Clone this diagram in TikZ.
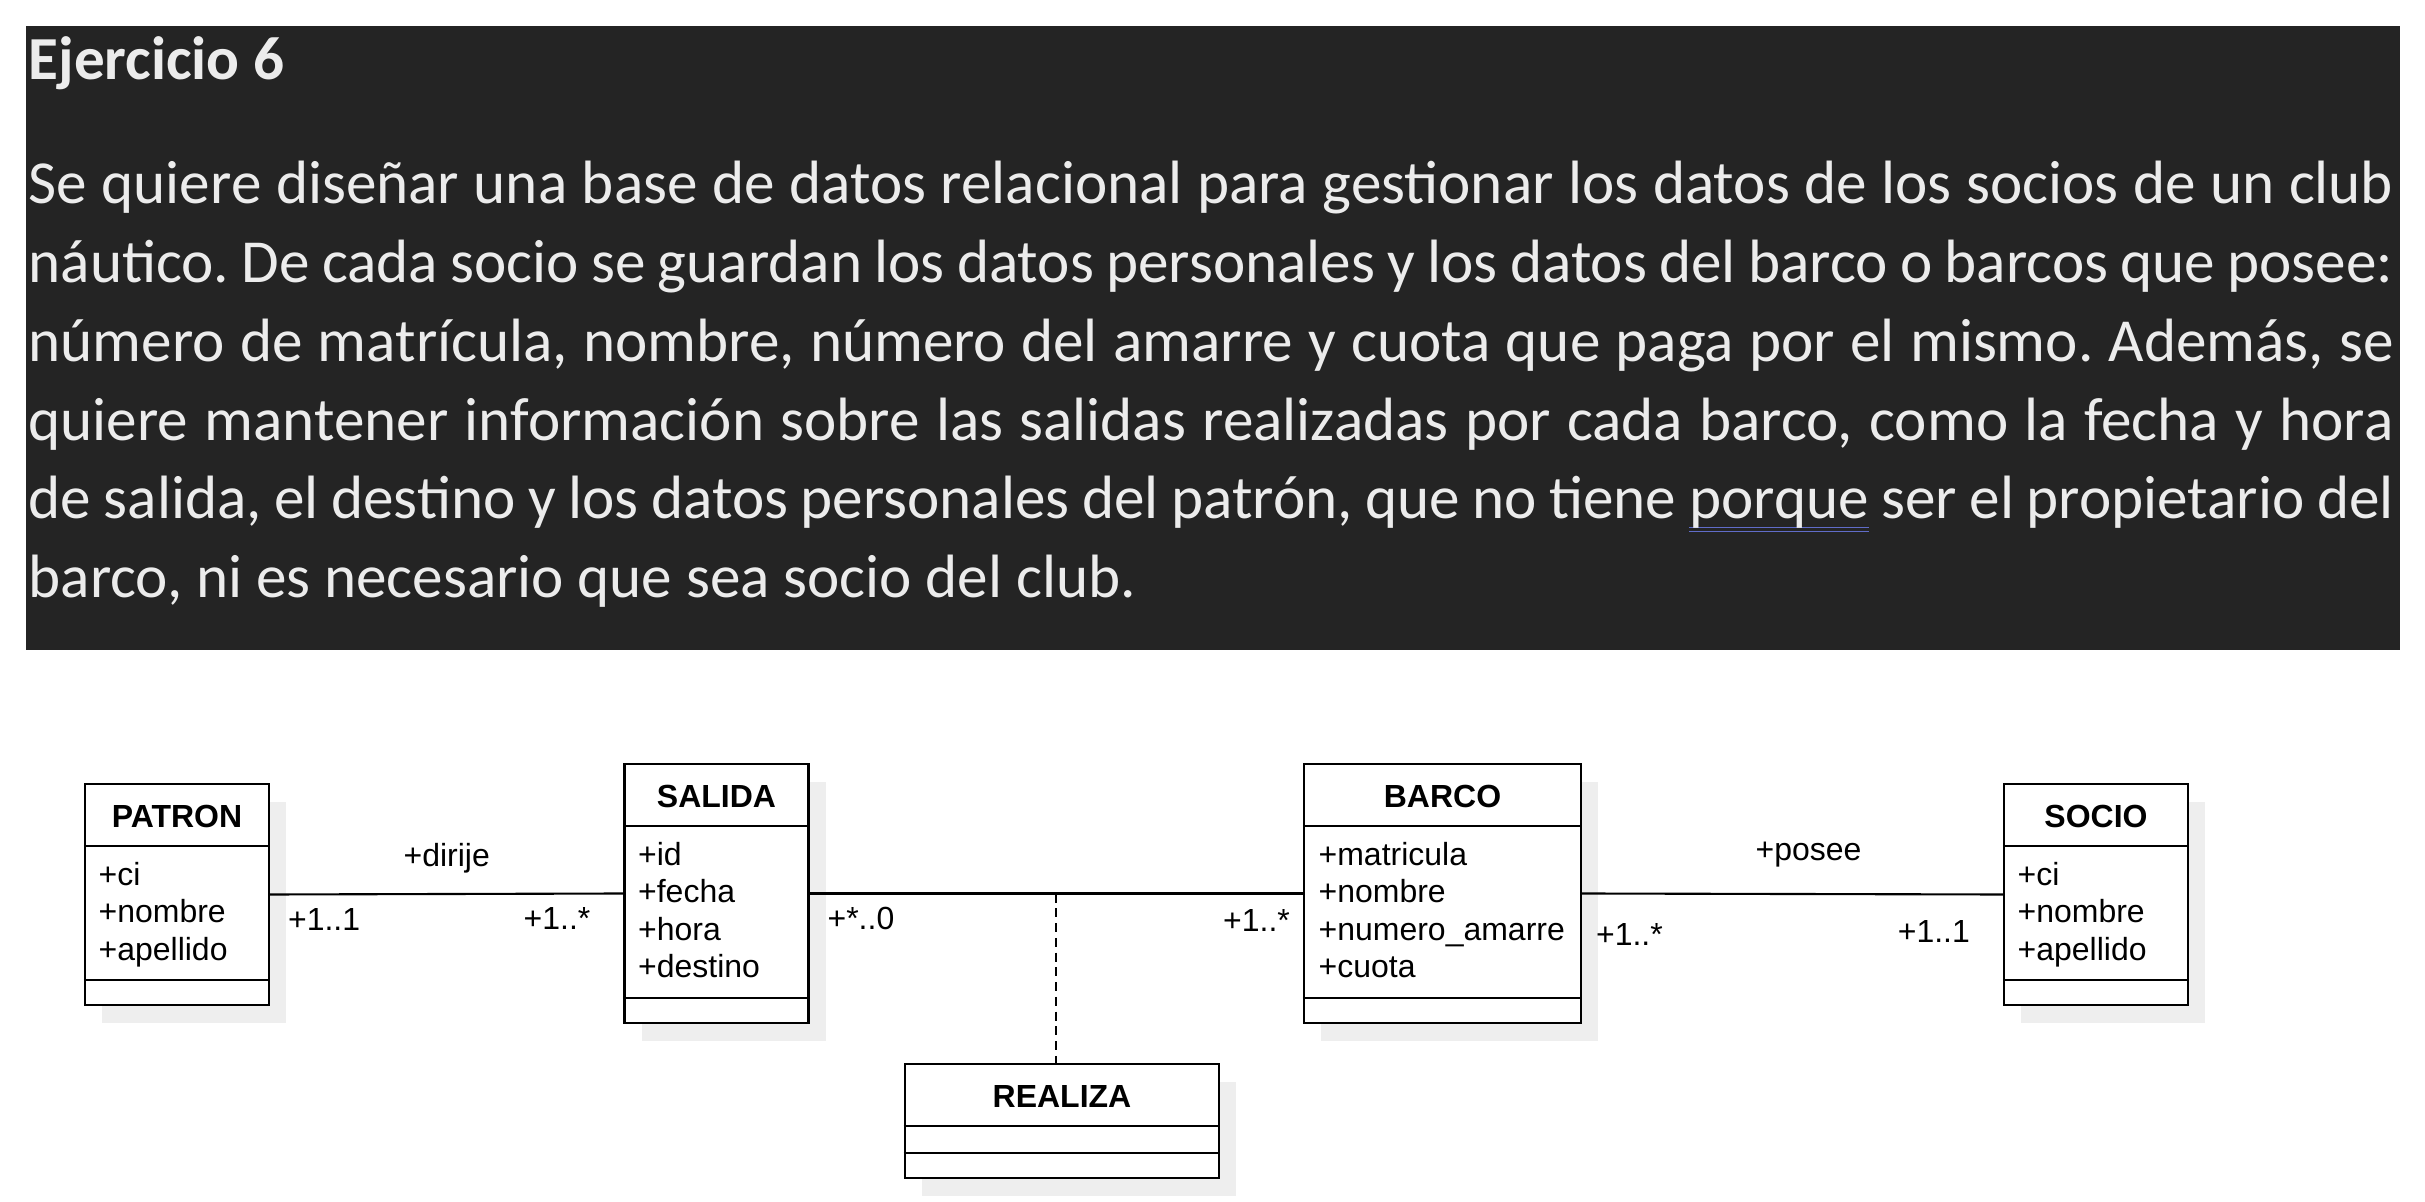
\documentclass[tikz,border=0pt]{standalone}
\usepackage{fontspec}
\setmainfont{Carlito}
\newfontfamily\umlfont{Liberation Sans}
\usepackage{tikz}
\usetikzlibrary{positioning, calc, shadows}
\definecolor{bannergray}{RGB}{36, 36, 36}
\definecolor{bannertext}{RGB}{236, 236, 236}
\definecolor{shadowgray}{RGB}{238, 238, 238}
\definecolor{markblue}{RGB}{96, 108, 200}

% double blue mark under a word
\newcommand{\grammarmark}[1]{\setbox0=\hbox{#1}\rlap{\textcolor{markblue}{\rule[-0.15em]{\wd0}{0.025em}}}\rlap{\textcolor{markblue}{\rule[-0.22em]{\wd0}{0.025em}}}\box0\relax}

\begin{document}
\begin{tikzpicture}[
        classbox/.style={rectangle, draw=black, fill=white, line width=0.6pt, inner sep=0pt, minimum width=1.84cm,
            drop shadow={shadow xshift=0.17cm, shadow yshift=-0.18cm, fill=shadowgray, opacity=1}},
        classname/.style={font=\umlfont\bfseries\fontsize{9.1}{11}\selectfont, inner sep=0pt},
        attrlist/.style={font=\umlfont\fontsize{9.1}{10.66}\selectfont, align=left, inner sep=0pt, anchor=north west},
        multlabel/.style={font=\umlfont\fontsize{9.1}{11}\selectfont, inner sep=0pt},
        relation/.style={draw=black, line width=0.6pt},
        statement/.style={text=bannertext, inner sep=0pt, anchor=base west, font=\fontsize{17.4}{22.4}\selectfont}
    ]
        \useasboundingbox (0,0) rectangle (24.25,-12.02);

        % Statement
        \node[fill=bannergray, inner sep=0pt, minimum width=23.74cm, minimum height=6.24cm, anchor=north west] (banner) at (0.25,-0.25) {};
        \node[statement, font=\fontsize{17.4}{22.4}\selectfont\bfseries] (title) at (0.28,-0.80) {Ejercicio 6};
        \node[statement, text width=23.65cm, align=justify] (text) at (0.28,-2.04) {\frenchspacing\hyphenpenalty=10000\tolerance=9999
            Se quiere diseñar una base de datos relacional para gestionar los datos de los socios de un club\linebreak
            náutico. De cada socio se guardan los datos personales y los datos del barco o barcos que posee:\linebreak
            número de matrícula, nombre, número del amarre y cuota que paga por el mismo. Además, se\linebreak
            quiere mantener información sobre las salidas realizadas por cada barco, como la fecha y hora\linebreak
            de salida, el destino y los datos personales del patrón, que no tiene \grammarmark{porque} ser el propietario del\linebreak
            barco, ni es necesario que sea socio del club.};

        % Classes
        \node[classbox, minimum height=2.21cm] (patron) at (1.77,-8.945) {};
        \node[classbox, minimum height=2.59cm] (salida) at (7.165,-8.935) {};
        \node[classbox, minimum width=2.77cm, minimum height=2.59cm] (barco) at (14.425,-8.935) {};
        \node[classbox, minimum height=2.21cm] (socio) at (20.96,-8.945) {};
        \node[classbox, minimum width=3.145cm, minimum height=1.14cm] (realiza) at (10.62,-11.21) {};

        \foreach \c in {patron, salida, barco, socio, realiza} {
            \draw[relation] ([yshift=-0.63cm]\c.north west) -- ([yshift=-0.63cm]\c.north east);
            \draw[relation] ([yshift=0.26cm]\c.south west) -- ([yshift=0.26cm]\c.south east);
        }

        \node[classname] (patron-name) at ([yshift=-0.34cm]patron.north) {PATRON};
        \node[classname] (salida-name) at ([yshift=-0.34cm]salida.north) {SALIDA};
        \node[classname] (barco-name) at ([yshift=-0.34cm]barco.north) {BARCO};
        \node[classname] (socio-name) at ([yshift=-0.34cm]socio.north) {SOCIO};
        \node[classname] (realiza-name) at ([yshift=-0.34cm]realiza.north) {REALIZA};

        \node[attrlist] (patron-attrs) at ([shift={(0.14,-0.785)}]patron.north west) {+ci\\+nombre\\+apellido};
        \node[attrlist] (salida-attrs) at ([shift={(0.14,-0.785)}]salida.north west) {+id\\+fecha\\+hora\\+destino};
        \node[attrlist] (barco-attrs) at ([shift={(0.15,-0.785)}]barco.north west) {+matricula\\+nombre\\+numero\_amarre\\+cuota};
        \node[attrlist] (socio-attrs) at ([shift={(0.14,-0.785)}]socio.north west) {+ci\\+nombre\\+apellido};

        % Associations
        \draw[relation] (patron.east) --
            node[multlabel, above=0.2cm] (dirije) {+dirije}
            node[multlabel, pos=0, below right=0.13cm and 0.17cm] (patron-mult) {+1..1}
            node[multlabel, pos=1, below left=0.13cm and 0.32cm] (salida-mult) {+1..*} (salida.west);
        \draw[relation] (salida.east) --
            node[multlabel, pos=0, below right=0.13cm and 0.17cm] (salida-realiza-mult) {+*..0}
            node[multlabel, pos=1, below left=0.15cm and 0.12cm] (barco-realiza-mult) {+1..*} (barco.west);
        \draw[relation] (barco.east) --
            node[multlabel, above=0.26cm, xshift=0.16cm] (posee) {+posee}
            node[multlabel, pos=0, below right=0.29cm and 0.13cm] (barco-mult) {+1..*}
            node[multlabel, pos=1, below left=0.25cm and 0.32cm] (socio-mult) {+1..1} (socio.west);

        \coordinate (realiza-link) at ($(salida.east)!0.5!(barco.west)$);
        \draw[relation, dash pattern=on 2.6pt off 1.6pt] (realiza-link) -- (realiza-link |- realiza.north);

    \end{tikzpicture}
\end{document}
